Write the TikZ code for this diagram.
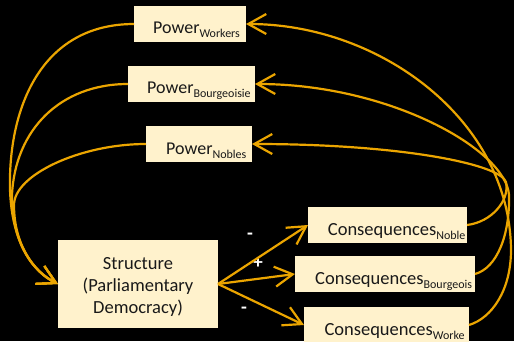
\documentclass[tikz,border=0pt]{standalone}
\usepackage{fontspec}
\setmainfont{Carlito}
\usetikzlibrary{arrows.meta}
\definecolor{boxfill}{RGB}{255,242,204}
\definecolor{arr}{RGB}{235,165,0}
\definecolor{txt}{RGB}{25,25,25}
\newcommand{\mysub}[1]{{\fontsize{12}{12}\selectfont\raisebox{-4.4pt}{#1}}}
\begin{document}
\begin{tikzpicture}[x=1pt,y=-1pt,
  box/.style={draw=none, fill=boxfill, inner sep=0pt, outer sep=0pt, minimum height=36pt},
  lbl/.style={anchor=base west, inner sep=0pt, text=txt, font=\fontsize{18}{22}\selectfont},
  sign/.style={inner sep=0pt, text=white, font=\bfseries\fontsize{19}{19}\selectfont},
  conn/.style={draw=arr, line width=2.2pt, -{Straight Barb[length=18pt,width=20pt]}}]
\fill[black] (0,0) rectangle (514,341);
\clip (0,0) rectangle (514,341);
% boxes
\node[box, minimum width=112pt] (pw) at (190,24) {};
\node[box, minimum width=127pt] (pb) at (191.5,84) {};
\node[box, minimum width=106pt] (pn) at (199,144) {};
\node[box, minimum width=160pt, minimum height=88pt] (st) at (138,284) {};
\node[box, minimum width=159pt] (cn) at (387.5,225) {};
\node[box, minimum width=180pt] (cb) at (385,274) {};
\node[box, minimum width=165pt] (cw) at (386.5,325) {};
% texts
\node[lbl] (tpw) at (153,33.3) {Power\mysub{Workers}};
\node[lbl] (tpb) at (147,93.3) {Power\mysub{Bourgeoisie}};
\node[lbl] (tpn) at (166,154) {Power\mysub{Nobles}};
\node[lbl, anchor=base, align=center, font=\fontsize{18.5}{22}\selectfont] (tst) at (138,313) {Structure\\(Parliamentary\\Democracy)};
\node[lbl, font=\fontsize{18.5}{22}\selectfont] (tcn) at (327.7,235) {Consequences\mysub{Noble}};
\node[lbl, font=\fontsize{18.5}{22}\selectfont] (tcb) at (315,284) {Consequences\mysub{Bourgeois}};
\node[lbl, font=\fontsize{18.5}{22}\selectfont] (tcw) at (324.3,335) {Consequences\mysub{Worke}};
% signs
\node[sign] (s1) at (250,236) {-};
\node[sign] (s2) at (258,263) {+};
\node[sign] (s3) at (244,310) {-};
% left curves
\draw[conn] (pw.west) .. controls (40,24) and (8,110) .. (10,190) .. controls (12,245) and (34,272) .. (st.west);
\draw[conn] (pb.west) .. controls (60,84) and (15,130) .. (12,195) .. controls (12,245) and (34,272) .. (st.west);
\draw[conn] (pn.west) .. controls (80,144) and (14,175) .. (14,205) .. controls (14,245) and (34,272) .. (st.west);
% right curves
\draw[conn] (cn.east) .. controls (492,222) and (510,200) .. (506,182) .. controls (500,164) and (400,144) .. (pn.east);
\draw[conn] (cb.east) .. controls (497,268) and (510,235) .. (509,195) .. controls (506,150) and (390,84) .. (pb.east);
\draw[conn] (cw.east) .. controls (492,318) and (511,290) .. (511,250) .. controls (510,120) and (380,24) .. (pw.east);
% structure to consequences
\draw[conn] (st.east) -- (cn.west);
\draw[conn] (st.east) -- (cb.west);
\draw[conn] (st.east) -- (cw.west);
\end{tikzpicture}
\end{document}
